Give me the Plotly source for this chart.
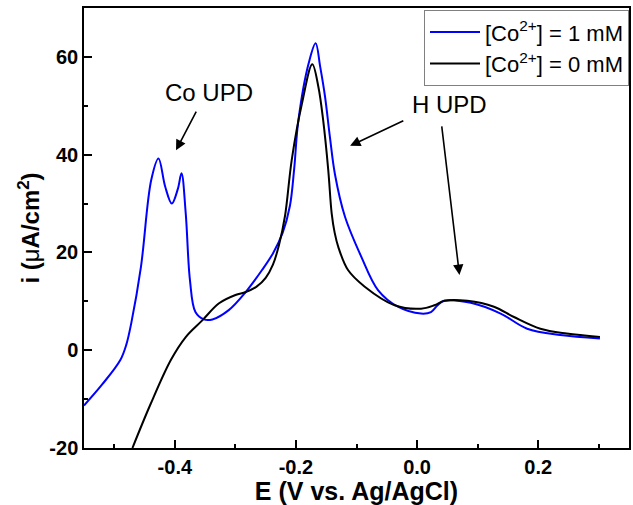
import plotly.graph_objects as go

# Cyclic voltammetry, cathodic scan: potential (V vs. Ag/AgCl) and current density (uA/cm2)
e_co1 = [-0.55, -0.52, -0.49, -0.48, -0.472, -0.456, -0.439, -0.427, -0.416, -0.405, -0.395,
         -0.389, -0.382, -0.375, -0.366, -0.352, -0.338, -0.311, -0.283, -0.256, -0.238,
         -0.222, -0.21, -0.203, -0.196, -0.179, -0.1675, -0.16, -0.152, -0.144, -0.1356,
         -0.119, -0.092, -0.0645, -0.0317, 0.0066, 0.023, 0.034, 0.045, 0.0887, 0.138,
         0.1818, 0.2365, 0.302]
i_co1 = [-11.3, -7.0, -2.0, 1.2, 5.5, 17.0, 34.8, 39.2, 33.5, 30.0, 33.0,
         36.2, 28.0, 14.3, 7.8, 6.3, 6.3, 8.2, 11.9, 16.4, 19.8,
         24.0, 29.5, 37.0, 47.0, 58.7, 62.8, 58.0, 51.9, 43.7, 36.0,
         27.3, 19.1, 12.3, 8.9, 7.5, 7.8, 9.2, 10.1, 9.7, 7.5,
         4.4, 3.1, 2.4]

e_co0 = [-0.47, -0.44, -0.4066, -0.382, -0.3547, -0.327, -0.2999, -0.283, -0.265, -0.25,
         -0.238, -0.228, -0.218, -0.207, -0.19, -0.173, -0.163, -0.155, -0.1466, -0.141,
         -0.136, -0.13, -0.114, -0.0864, -0.037, 0.0066, 0.0286, 0.045, 0.083, 0.127,
         0.16, 0.2036, 0.247, 0.302]
i_co0 = [-20.0, -11.0, -2.0, 2.7, 6.1, 9.6, 11.3, 11.9, 13.0, 14.8,
         17.5, 21.5, 27.5, 38.9, 50.5, 58.5, 53.9, 47.0, 36.8, 28.0,
         24.0, 21.1, 16.4, 13.0, 9.2, 8.5, 9.2, 10.1, 10.1, 8.9,
         6.8, 4.4, 3.4, 2.7]

x_ticks = [-0.4, -0.2, 0.0, 0.2]
x_ticklabels = ["-0.4", "-0.2", "0.0", "0.2"]
y_ticks = [-20, 0, 20, 40, 60]
y_ticklabels = ["-20", "0", "20", "40", "60"]

FONT = "Liberation Sans, Arial, sans-serif"

fig = go.Figure()
fig.add_trace(go.Scatter(
    x=e_co1, y=i_co1, mode="lines", name="[Co<sup>2+</sup>] = 1 mM",
    line=dict(color="#0000ff", width=2, shape="spline", smoothing=1.0),
))
fig.add_trace(go.Scatter(
    x=e_co0, y=i_co0, mode="lines", name="[Co<sup>2+</sup>] = 0 mM",
    line=dict(color="#000000", width=2, shape="spline", smoothing=1.0),
))

arrow = dict(showarrow=True, arrowhead=2, arrowsize=1.3, arrowwidth=1.6,
             arrowcolor="black", axref="x", ayref="y", xref="x", yref="y", text="")

fig.add_annotation(x=-0.398, y=40.9, ax=-0.3634, ay=49.1, **arrow)
fig.add_annotation(x=-0.1106, y=41.8, ax=-0.0202, ay=47.1, **arrow)
fig.add_annotation(x=0.070, y=15.4, ax=0.0405, ay=46.1, **arrow)

fig.add_annotation(x=-0.3434, y=52.8, xref="x", yref="y", text="Co UPD",
                   showarrow=False, font=dict(family=FONT, size=24, color="black"))
fig.add_annotation(x=0.0537, y=50.2, xref="x", yref="y", text="H UPD",
                   showarrow=False, font=dict(family=FONT, size=24, color="black"))

tick_font = dict(family=FONT, size=20, color="black")
minor_ticks = dict(ticks="inside", ticklen=4, tickwidth=1.5, tickcolor="black", showgrid=False)

fig.update_xaxes(
    range=[-0.55, 0.35], tickvals=x_ticks,
    ticktext=[f"<b>{t}</b>" for t in x_ticklabels],
    tickfont=tick_font,
    showline=True, linecolor="black", linewidth=1.5, mirror=True,
    ticks="inside", ticklen=8, tickwidth=1.5, tickcolor="black",
    showgrid=False, zeroline=False,
    minor=dict(dtick=0.1, tick0=0, **minor_ticks),
    title=dict(text="<b>E (V vs. Ag/AgCl)</b>", standoff=0,
               font=dict(family=FONT, size=25, color="black")),
)
fig.update_yaxes(
    range=[-20, 70], tickvals=y_ticks,
    ticktext=[f"<b>{t}</b>" for t in y_ticklabels],
    tickfont=tick_font,
    showline=True, linecolor="black", linewidth=1.5, mirror=True,
    ticks="inside", ticklen=8, tickwidth=1.5, tickcolor="black",
    showgrid=False, zeroline=False,
    minor=dict(dtick=10, tick0=0, **minor_ticks),
    title=dict(text="<b>i (</b>μ<b>A/cm<sup>2</sup>)</b>", standoff=3,
               font=dict(family=FONT, size=24, color="black")),
)

fig.update_layout(
    width=633, height=505,
    margin=dict(l=84, r=2, t=8, b=57),
    paper_bgcolor="white", plot_bgcolor="white",
    font=dict(family=FONT, color="black"),
    legend=dict(
        x=1, y=0.995, xanchor="right", yanchor="top",
        bgcolor="white", bordercolor="#808080", borderwidth=1,
        font=dict(family=FONT, size=22, color="black"),
        itemwidth=50, tracegroupgap=0,
    ),
)

fig.write_html("out.html")
